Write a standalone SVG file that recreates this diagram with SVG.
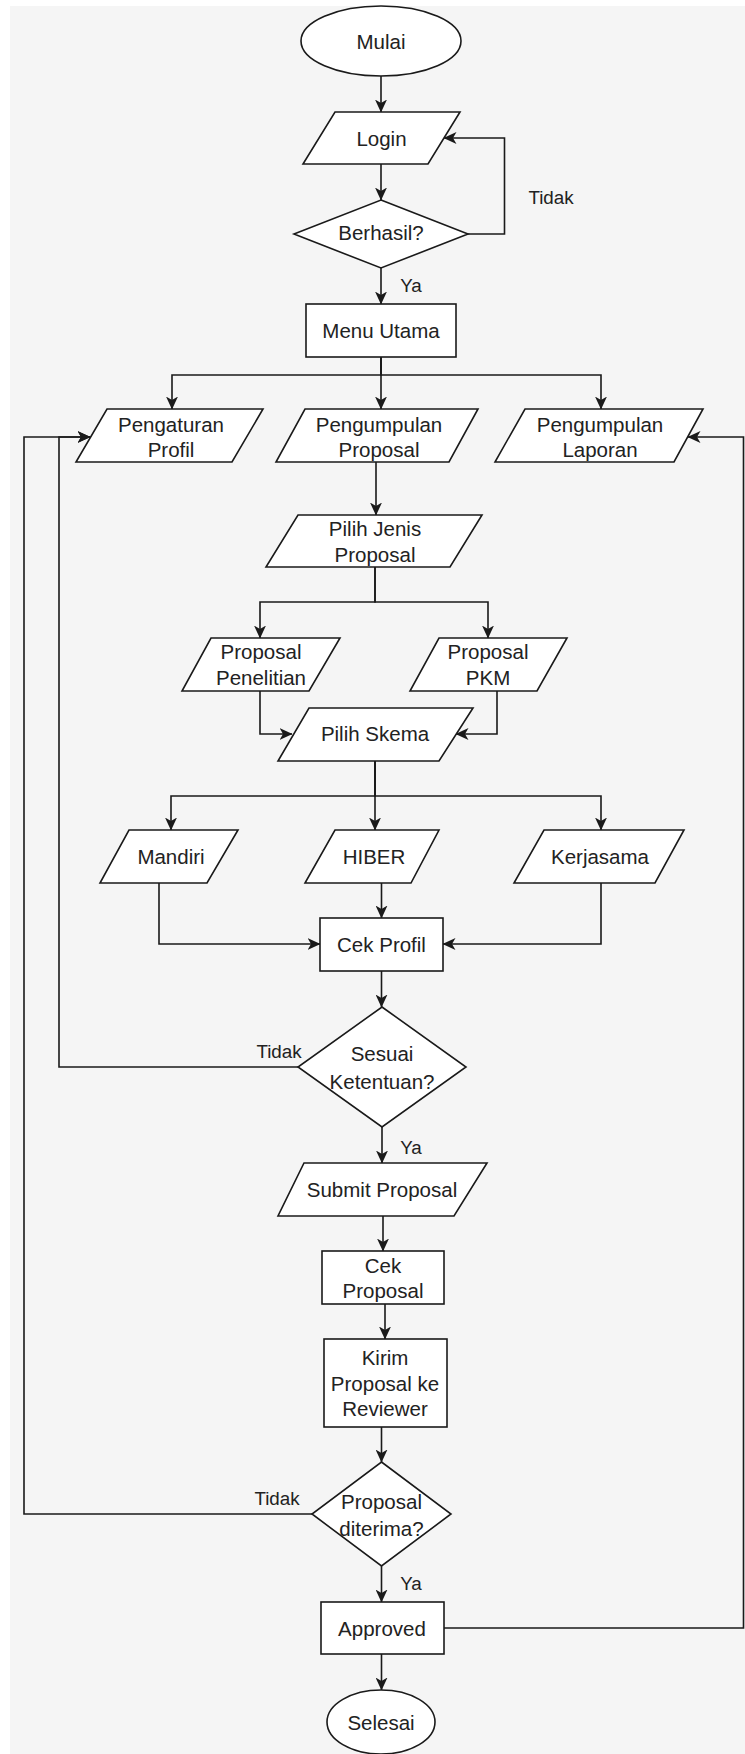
<svg xmlns="http://www.w3.org/2000/svg" width="745" height="1754" viewBox="0 0 745 1754">
<defs>
<marker id="arr" markerUnits="userSpaceOnUse" viewBox="0 0 13 12" refX="12.5" refY="6" markerWidth="13" markerHeight="12" orient="auto">
<path d="M0,0 L13,6 L0,12 L3.5,6 Z" fill="#1a1a1a"/>
</marker>
<style>
.n{fill:#fff;stroke:#1a1a1a;stroke-width:1.6}
.t{font-family:"Liberation Sans",Arial,sans-serif;font-size:20.5px;fill:#222;text-anchor:middle;dominant-baseline:central}
.l{font-family:"Liberation Sans",Arial,sans-serif;font-size:18.8px;fill:#222;text-anchor:middle;dominant-baseline:central}
.c{fill:none;stroke:#1a1a1a;stroke-width:1.6}
.a{marker-end:url(#arr)}
</style>
</defs>
<rect x="10" y="6" width="735" height="1748" fill="#f5f5f5"/>
<g id="connectors">
<path class="c a" d="M381,76 V112"/>
<path class="c a" d="M381,164 V200"/>
<path class="c a" d="M468,234 H504.5 V138 H444"/>
<path class="c a" d="M381,268 V304"/>
<path class="c a" d="M381,357 V375 H172 V409"/>
<path class="c a" d="M381,357 V409"/>
<path class="c a" d="M381,357 V375 H601 V409"/>
<path class="c a" d="M376,462 V515"/>
<path class="c a" d="M375,567 V602 H260 V638"/>
<path class="c a" d="M375,567 V602 H488 V638"/>
<path class="c a" d="M260,691 V734 H292"/>
<path class="c a" d="M497,691 V734 H456"/>
<path class="c a" d="M375,761 V796 H171 V830"/>
<path class="c a" d="M375,761 V830"/>
<path class="c a" d="M375,761 V796 H601 V830"/>
<path class="c a" d="M159,883 V944 H320"/>
<path class="c a" d="M381.5,883 V918"/>
<path class="c a" d="M601,883 V944 H443"/>
<path class="c a" d="M381.5,971 V1007"/>
<path class="c a" d="M298,1067 H59 V437 H90"/>
<path class="c a" d="M382,1127 V1163"/>
<path class="c a" d="M383,1216 V1251"/>
<path class="c a" d="M385,1304 V1339"/>
<path class="c a" d="M381.5,1427 V1462"/>
<path class="c a" d="M312,1514 H24 V437 H90"/>
<path class="c a" d="M381.5,1566 V1602"/>
<path class="c a" d="M444,1628 H743.5 V437 H688"/>
<path class="c a" d="M381.5,1654 V1690"/>
<text class="l" x="551" y="197">Tidak</text>
<text class="l" x="411" y="285">Ya</text>
<text class="l" x="279" y="1051">Tidak</text>
<text class="l" x="411" y="1147">Ya</text>
<text class="l" x="277" y="1498">Tidak</text>
<text class="l" x="411" y="1583">Ya</text>
</g>
<g id="mulai"><ellipse class="n" cx="381" cy="41" rx="80" ry="35"/><text class="t" x="381" y="41">Mulai</text></g>
<g id="login"><polygon class="n" points="335,112 460,112 428,164 303,164"/><text class="t" x="381.5" y="138">Login</text></g>
<g id="berhasil"><polygon class="n" points="381,200 468,234 381,268 294,234"/><text class="t" x="381" y="232">Berhasil?</text></g>
<g id="menu-utama"><rect class="n" x="306" y="304" width="150" height="53"/><text class="t" x="381" y="330">Menu Utama</text></g>
<g id="pengaturan-profil"><polygon class="n" points="107,409 263,409 232,462 76,462"/><text class="t" x="171" y="424">Pengaturan</text><text class="t" x="171" y="449">Profil</text></g>
<g id="pengumpulan-proposal"><polygon class="n" points="305,409 478,409 449,462 276,462"/><text class="t" x="379" y="424">Pengumpulan</text><text class="t" x="379" y="449">Proposal</text></g>
<g id="pengumpulan-laporan"><polygon class="n" points="525,409 703,409 674,462 495,462"/><text class="t" x="600" y="424">Pengumpulan</text><text class="t" x="600" y="449">Laporan</text></g>
<g id="pilih-jenis"><polygon class="n" points="298,515 482,515 450,567 266,567"/><text class="t" x="375" y="528">Pilih Jenis</text><text class="t" x="375" y="554">Proposal</text></g>
<g id="proposal-penelitian"><polygon class="n" points="211,638 340,638 309,691 182,691"/><text class="t" x="261" y="651">Proposal</text><text class="t" x="261" y="677">Penelitian</text></g>
<g id="proposal-pkm"><polygon class="n" points="439,638 567,638 537,691 410,691"/><text class="t" x="488" y="651">Proposal</text><text class="t" x="488" y="677">PKM</text></g>
<g id="pilih-skema"><polygon class="n" points="309,708 473,708 439,761 278,761"/><text class="t" x="375" y="733">Pilih Skema</text></g>
<g id="mandiri"><polygon class="n" points="129,830 238,830 207,883 100,883"/><text class="t" x="171" y="856">Mandiri</text></g>
<g id="hiber"><polygon class="n" points="335,830 439,830 411,883 305,883"/><text class="t" x="374" y="856">HIBER</text></g>
<g id="kerjasama"><polygon class="n" points="544,830 684,830 655,883 514,883"/><text class="t" x="600" y="856">Kerjasama</text></g>
<g id="cek-profil"><rect class="n" x="320" y="918" width="123" height="53"/><text class="t" x="381.5" y="944">Cek Profil</text></g>
<g id="sesuai-ketentuan"><polygon class="n" points="382,1007 466,1067 382,1127 298,1067"/><text class="t" x="382" y="1053">Sesuai</text><text class="t" x="382" y="1081">Ketentuan?</text></g>
<g id="submit-proposal"><polygon class="n" points="304,1163 487,1163 454,1216 278,1216"/><text class="t" x="382" y="1189">Submit Proposal</text></g>
<g id="cek-proposal"><rect class="n" x="322" y="1251" width="122" height="53"/><text class="t" x="383" y="1265">Cek</text><text class="t" x="383" y="1290">Proposal</text></g>
<g id="kirim-reviewer"><rect class="n" x="324" y="1339" width="123" height="88"/><text class="t" x="385" y="1357">Kirim</text><text class="t" x="385" y="1383">Proposal ke</text><text class="t" x="385" y="1408">Reviewer</text></g>
<g id="proposal-diterima"><polygon class="n" points="381.5,1462 451,1514 381.5,1566 312,1514"/><text class="t" x="381.5" y="1501">Proposal</text><text class="t" x="381.5" y="1528">diterima?</text></g>
<g id="approved"><rect class="n" x="321" y="1602" width="123" height="52"/><text class="t" x="382" y="1628">Approved</text></g>
<g id="selesai"><ellipse class="n" cx="381" cy="1722" rx="54" ry="32"/><text class="t" x="381" y="1722">Selesai</text></g>
</svg>
